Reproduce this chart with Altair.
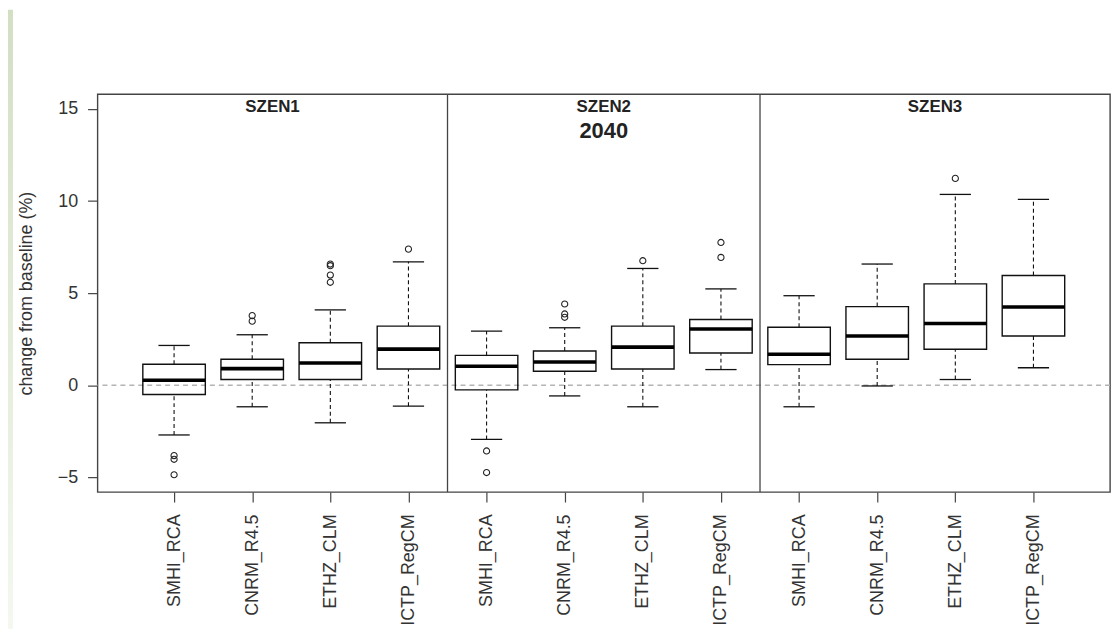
import json
import altair as alt
import pandas as pd

# ---------------- data ----------------
scenarios = ["SZEN1", "SZEN2", "SZEN3"]
models = ["SMHI_RCA", "CNRM_R4.5", "ETHZ_CLM", "ICTP_RegCM"]
period = "2040"
y_ticks = [-5, 0, 5, 10, 15]
y_title = "change from baseline (%)"

lower_whisker = [-2.70, -1.17, -2.04, -1.14, -2.94, -0.58, -1.17, 0.85, -1.17, -0.04, 0.31, 0.95]
q1 = [-0.50, 0.31, 0.31, 0.88, -0.25, 0.76, 0.88, 1.75, 1.12, 1.41, 1.95, 2.67]
median = [0.27, 0.90, 1.21, 1.96, 1.03, 1.26, 2.07, 3.05, 1.68, 2.67, 3.35, 4.25]
q3 = [1.14, 1.41, 2.31, 3.21, 1.62, 1.86, 3.21, 3.57, 3.15, 4.27, 5.50, 5.96]
upper_whisker = [2.16, 2.74, 4.09, 6.70, 2.94, 3.12, 6.34, 5.23, 4.86, 6.58, 10.36, 10.09]
outliers = [
    [-3.82, -4.02, -4.86],
    [3.78, 3.48],
    [6.58, 6.49, 5.98, 5.59],
    [7.39],
    [-3.57, -4.74],
    [4.41, 3.87, 3.69],
    [6.76],
    [7.75, 6.94],
    [],
    [],
    [11.23],
    [],
]

# ---------------- tables ----------------
n = len(median)
box_df = pd.DataFrame({
    "pos": list(range(1, n + 1)),
    "scen": [scenarios[i // len(models)] for i in range(n)],
    "model": [models[i % len(models)] for i in range(n)],
    "lw": lower_whisker, "q1": q1, "med": median, "q3": q3, "uw": upper_whisker,
})
out_df = pd.DataFrame(
    [{"pos": i + 1, "value": v} for i, vals in enumerate(outliers) for v in vals]
)

x_dom = [0.02, n + 0.98]
bounds = [x_dom[0]] + [len(models) * k + 0.5 for k in range(1, len(scenarios))] + [x_dom[1]]
title_df = pd.DataFrame({
    "label": scenarios,
    "xc": [(bounds[k] + bounds[k + 1]) / 2 for k in range(len(scenarios))],
})
period_df = pd.DataFrame({"label": [period], "xc": [title_df["xc"][1]]})
div_df = pd.DataFrame({"xd": bounds[1:-1]})

FONT = "Liberation Sans"
xs = alt.Scale(domain=x_dom, nice=False, zero=False)
ys = alt.Scale(domain=[-5.8, 15.8], nice=False, zero=False)

label_expr = json.dumps(models) + "[(datum.value - 1) % " + str(len(models)) + "]"

x_axis = alt.Axis(
    values=list(range(1, n + 1)), labelExpr=label_expr, labelAngle=270,
    labelFontSize=18, labelFont=FONT, labelColor="#333", labelPadding=12,
    tickSize=10, tickColor="#444", tickWidth=1.2, domain=False, grid=False,
    title=None, labelOverlap=False, labelBound=False, labelFlush=False,
)
y_axis = alt.Axis(
    values=y_ticks, labelFontSize=18, labelFont=FONT, labelColor="#333",
    labelPadding=10, tickSize=10, tickColor="#444", tickWidth=1.2,
    domain=False, grid=False, title=y_title, titleFont=FONT, titleFontSize=18,
    titleFontWeight="normal", titleColor="#333", titleX=-71, titleY=200,
    titleAngle=270, titleAlign="center", titleBaseline="middle",
    labelFlush=False, labelOverlap=False,
)

base = alt.Chart(box_df).transform_calculate(
    xl="datum.pos - 0.4", xr="datum.pos + 0.4",
    sl="datum.pos - 0.2", sr="datum.pos + 0.2",
)

# decoration strip at the left edge
strip = alt.Chart(pd.DataFrame({"a": [0]})).mark_rect(
    color=alt.LinearGradient(
        gradient="linear", x1=0, x2=0, y1=0, y2=1,
        stops=[alt.GradientStop(offset=0, color="#d2dfc3"),
               alt.GradientStop(offset=1, color="#f4f8ef")],
    )
).encode(x=alt.value(-90), x2=alt.value(-85), y=alt.value(-85), y2=alt.value(540))

zero = alt.Chart(pd.DataFrame({"z": [0]})).mark_rule(
    color="#b4b4b4", strokeDash=[5, 4], strokeWidth=1.4
).encode(y=alt.Y("z:Q", scale=ys, axis=y_axis))

whisk_hi = base.mark_rule(color="#111", strokeDash=[4, 3], strokeWidth=1.1).encode(
    x=alt.X("pos:Q", scale=xs, axis=x_axis), y=alt.Y("q3:Q", scale=ys), y2="uw:Q")
whisk_lo = base.mark_rule(color="#111", strokeDash=[4, 3], strokeWidth=1.1).encode(
    x=alt.X("pos:Q", scale=xs), y=alt.Y("lw:Q", scale=ys), y2="q1:Q")
cap_hi = base.mark_rule(color="#111", strokeWidth=1.3).encode(
    x=alt.X("sl:Q", scale=xs), x2="sr:Q", y=alt.Y("uw:Q", scale=ys))
cap_lo = base.mark_rule(color="#111", strokeWidth=1.3).encode(
    x=alt.X("sl:Q", scale=xs), x2="sr:Q", y=alt.Y("lw:Q", scale=ys))
boxes = base.mark_rect(fillOpacity=0, stroke="#111", strokeWidth=1.4).encode(
    x=alt.X("xl:Q", scale=xs), x2="xr:Q", y=alt.Y("q1:Q", scale=ys), y2="q3:Q")
meds = base.mark_rule(color="#000", strokeWidth=3.6).encode(
    x=alt.X("xl:Q", scale=xs), x2="xr:Q", y=alt.Y("med:Q", scale=ys))
pts = alt.Chart(out_df).mark_point(
    shape="circle", filled=False, size=38, color="#222", strokeWidth=1.1, opacity=1
).encode(x=alt.X("pos:Q", scale=xs), y=alt.Y("value:Q", scale=ys))

dividers = alt.Chart(div_df).mark_rule(color="#444", strokeWidth=1.3).encode(
    x=alt.X("xd:Q", scale=xs))

titles = alt.Chart(title_df).mark_text(
    font=FONT, fontSize=17, fontWeight="bold", color="#222", baseline="middle"
).encode(x=alt.X("xc:Q", scale=xs), y=alt.value(13), text="label:N")
period_txt = alt.Chart(period_df).mark_text(
    font=FONT, fontSize=22, fontWeight="bold", color="#222", baseline="middle"
).encode(x=alt.X("xc:Q", scale=xs), y=alt.value(37), text="label:N")

chart = alt.layer(
    strip, zero, whisk_hi, whisk_lo, cap_hi, cap_lo, boxes, meds, pts,
    dividers, titles, period_txt,
).properties(
    width=1018, height=400,
    autosize=alt.AutoSizeParams(type="none"),
    padding={"left": 90, "top": 85, "right": 2, "bottom": 136},
    background="white",
).configure_view(stroke="#444", strokeWidth=1.4)

chart.save("out.html", embed_options={"renderer": "svg", "actions": False})
